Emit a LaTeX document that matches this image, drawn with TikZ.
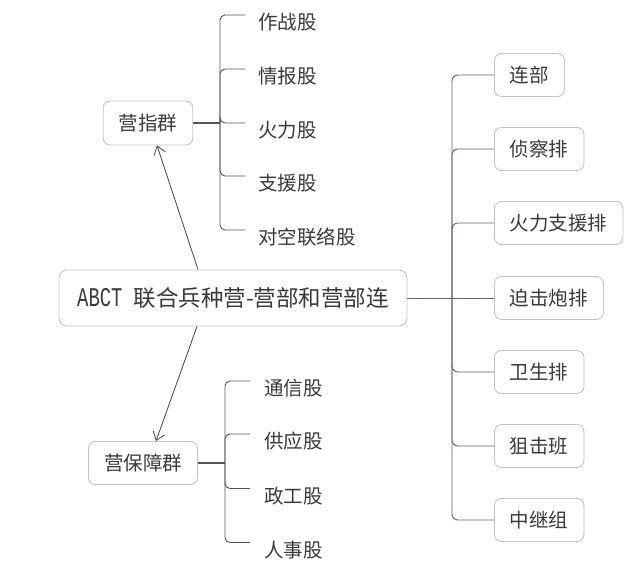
\documentclass[tikz,border=0pt]{standalone}
\usepackage{fontspec}
\setmainfont{Noto Sans CJK SC}
\newfontfamily\abctfont[FakeStretch=0.7]{Liberation Mono}
\usetikzlibrary{arrows.meta}
\definecolor{txt}{HTML}{3A3A3A}
\definecolor{boxline}{HTML}{C4C4C4}
\definecolor{lbr}{HTML}{555555}
\definecolor{rbr}{HTML}{62627F}
\definecolor{arr}{HTML}{444444}
\tikzset{
  box/.style={draw=boxline, line width=0.9pt, rounded corners=7pt, fill=white, text=txt,
    minimum height=43pt, inner xsep=15.5pt, inner ysep=0pt,
    font=\fontsize{19.5}{20}\selectfont},
  leaf/.style={anchor=west, inner sep=0pt, text=txt, font=\fontsize{19.5}{20}\selectfont},
  lbranch/.style={draw=lbr, line width=0.9pt, rounded corners=5pt},
  rbranch/.style={draw=rbr, line width=0.9pt, rounded corners=6pt},
  arrowline/.style={draw=arr, line width=0.8pt, -{Straight Barb[length=8pt,width=12pt,line width=0.8pt]}}
}
\begin{document}
\begin{tikzpicture}[x=1pt,y=-1pt]
\useasboundingbox (0,0) rectangle (640,569);
\fill[white] (0,0) rectangle (640,569);

% central node
\node[box, minimum width=348pt, minimum height=56pt, inner xsep=0pt, rounded corners=8pt,
  font=\fontsize{22.5}{23}\selectfont] (c) at (233,298)
  {{\abctfont\fontsize{27}{27}\selectfont ABCT}\hspace{11pt}联合兵种营-营部和营部连};

% upper group
\node[box, minimum height=44pt] (g1) at (148,123) {营指群};
\coordinate (j1) at (220,123);
\node[leaf] (t1) at (258,22.5) {作战股};
\node[leaf] (t2) at (258,76.5) {情报股};
\node[leaf] (t3) at (258,130.5) {火力股};
\node[leaf] (t4) at (258,183.5) {支援股};
\node[leaf] (t5) at (258,237.5) {对空联络股};
\draw[draw=lbr, line width=1.6pt] (g1.east) -- (j1);
\foreach \t in {t1,t2,t3,t4,t5}
  \draw[lbranch] (j1) |- ([xshift=-13pt,yshift=7.5pt]\t.west);

% lower group
\node[box] (g2) at (143,463) {营保障群};
\coordinate (j2) at (225,463);
\node[leaf] (b1) at (264,388.5) {通信股};
\node[leaf] (b2) at (264,441.5) {供应股};
\node[leaf] (b3) at (264,496) {政工股};
\node[leaf] (b4) at (264,550) {人事股};
\draw[draw=lbr, line width=1.6pt] (g2.east) -- (j2);
\foreach \t in {b1,b2,b3,b4}
  \draw[lbranch] (j2) |- ([xshift=-14pt,yshift=7.5pt]\t.west);

% arrows
\draw[arrowline] ([xshift=-35pt]c.north) -- ([xshift=9pt]g1.south);
\draw[arrowline] ([xshift=-36pt]c.south) -- ([xshift=13pt]g2.north);

% right group
\node[box, anchor=west] (r1) at (494,75) {连部};
\node[box, anchor=west] (r2) at (494,149) {侦察排};
\node[box, anchor=west] (r3) at (494,223) {火力支援排};
\node[box, anchor=west] (r4) at (494,298) {迫击炮排};
\node[box, anchor=west] (r5) at (494,372) {卫生排};
\node[box, anchor=west] (r6) at (494,446) {狙击班};
\node[box, anchor=west] (r7) at (494,520) {中继组};
\coordinate (jr) at (452,298);
\draw[rbranch] (c.east) -- (r4.west);
\foreach \t in {r1,r2,r3,r5,r6,r7}
  \draw[rbranch] (jr) |- (\t.west);
\end{tikzpicture}
\end{document}
